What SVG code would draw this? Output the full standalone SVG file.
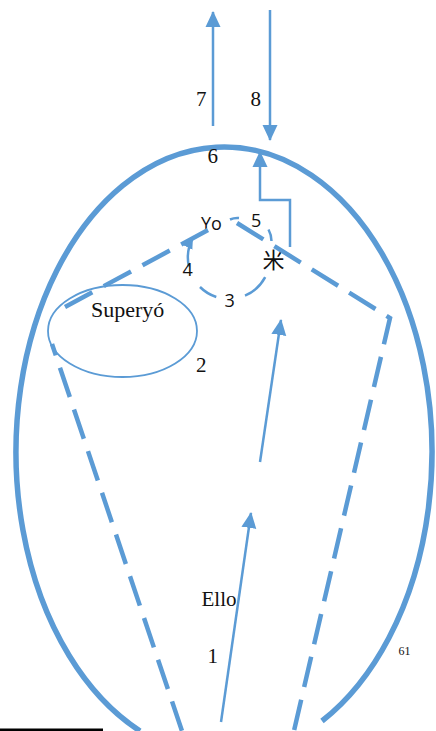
<svg xmlns="http://www.w3.org/2000/svg" width="436" height="731" viewBox="0 0 436 731">
  <style>
    .blue { stroke: #5B9BD5; fill: none; }
    .thin { stroke-width: 2.5; }
    .dash { stroke-width: 4.5; stroke-dasharray: 31 13; }
    .loop { stroke-width: 2.5; }
    .serif { font-family: "Liberation Serif", "Times New Roman", serif; font-size: 21px; fill: #111; }
    .sans { font-family: "Open Sans", "Noto Sans", sans-serif; font-size: 18px; fill: #111; }
    .cjk { font-family: "Noto Sans CJK SC", "Noto Sans CJK JP", sans-serif; font-size: 22px; fill: #111; }
    .big { font-size: 22px; }
    .small { font-size: 12px; }
  </style>
  <defs>
    <marker id="arrow" viewBox="0 0 16 16" markerWidth="16" markerHeight="16" refX="15" refY="8" orient="auto" markerUnits="userSpaceOnUse">
      <path d="M0,0.5 L16,8 L0,15.5 z" fill="#5B9BD5"/>
    </marker>
    <marker id="arrowSmall" viewBox="0 0 12 12" markerWidth="11" markerHeight="11" refX="11" refY="6" orient="auto" markerUnits="userSpaceOnUse">
      <path d="M0,0.5 L12,6 L0,11.5 z" fill="#5B9BD5"/>
    </marker>
  </defs>

  <!-- outer psyche boundary, open at the bottom -->
  <g id="psyche">
    <path class="blue" stroke-width="5.5" d="M140,731 A208,305 0 1 1 322,721"/>
  </g>

  <!-- superego ellipse -->
  <g id="superyo">
    <ellipse class="blue" cx="122.5" cy="331" rx="74.5" ry="46" stroke-width="1.8"/>
    <text class="serif big" x="91" y="316.5">Superyó</text>
  </g>

  <g id="yo">
    <text class="sans" x="201" y="229.5">Yo</text>
  </g>

  <g id="ello">
    <text class="serif" x="201.5" y="606">Ello</text>
  </g>

  <g id="ideogram">
    <text class="cjk" x="262.5" y="268">米</text>
  </g>

  <g id="connectors">
    <!-- dashed boundary lines -->
    <path class="blue dash" stroke-dasharray="32 11" d="M65,307 L208,230"/>
    <path class="blue dash" d="M237,223 L390,318 L293,735"/>
    <path class="blue dash" stroke-dashoffset="19" d="M52,344 L184,737"/>

    <!-- small loop around Yo -->
    <path class="blue loop" d="M188.9,266.5 A41,41 0 0 1 192.5,238.6" marker-end="url(#arrowSmall)"/>
    <path class="blue loop" d="M200,287 A41,41 0 0 0 216.3,297"/>
    <path class="blue loop" d="M245,295.7 A41,41 0 0 0 265.2,277.2"/>
    <path class="blue loop" d="M268.5,229.5 Q271.5,235 271.5,241"/>
    <path class="blue loop" d="M230,219.5 Q234.5,217.5 239,218"/>

    <!-- elbow from the ideogram up to the boundary -->
    <path class="blue thin" d="M290,247 V200 H260 V152" marker-end="url(#arrow)"/>

    <!-- arrows crossing the top boundary -->
    <path class="blue thin" d="M213,126 L213,12" marker-end="url(#arrow)"/>
    <path class="blue thin" d="M270,10 L270,140" marker-end="url(#arrow)"/>

    <!-- rising arrows from below -->
    <path class="blue thin" d="M260,462 L281,320" marker-end="url(#arrow)"/>
    <path class="blue thin" d="M221,722 L251,513" marker-end="url(#arrow)"/>
  </g>

  <!-- numbered labels -->
  <g id="labels">
    <text class="serif" x="196" y="106">7</text>
    <text class="serif" x="250.5" y="106">8</text>
    <text class="serif" x="207.5" y="163">6</text>
    <text class="sans" x="251" y="226.5">5</text>
    <text class="sans" x="182.5" y="276">4</text>
    <text class="sans" x="224.5" y="307">3</text>
    <text class="serif" x="196" y="372">2</text>
    <text class="serif" x="207.5" y="663">1</text>
    <text class="serif small" x="398.5" y="655">61</text>
  </g>

  <!-- footnote rule -->
  <rect x="0" y="728.5" width="103" height="2.5" fill="#000"/>
</svg>
